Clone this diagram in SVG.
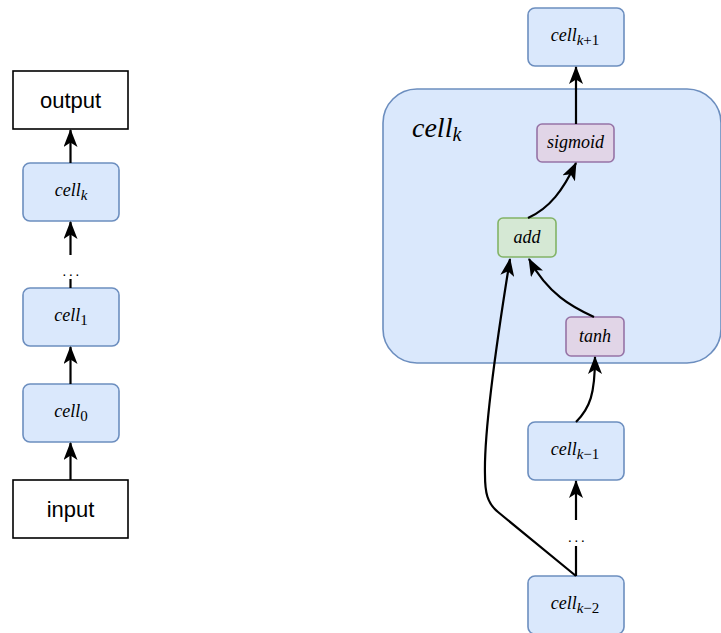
<svg xmlns="http://www.w3.org/2000/svg" width="721" height="633" viewBox="0 0 721 633">
  <style>
    .blue { fill: #dae8fc; stroke: #6c8ebf; stroke-width: 1.6; }
    .green { fill: #d5e8d4; stroke: #82b366; stroke-width: 1.6; }
    .purple { fill: #e1d5e7; stroke: #9673a6; stroke-width: 1.6; }
    .plain { fill: #ffffff; stroke: #000000; stroke-width: 1.6; }
    .math { font-family: "Liberation Serif", "Times New Roman", serif; font-style: italic; font-size: 18px; fill: #000; text-anchor: middle; }
    .sub { font-size: 15px; }
    .up { font-style: normal; }
    .sans { font-family: "Liberation Sans", Arial, sans-serif; font-size: 22px; fill: #000; text-anchor: middle; }
    .dots { font-family: "Liberation Sans", Arial, sans-serif; font-size: 15px; letter-spacing: 2.4px; fill: #000; text-anchor: middle; }
    .edge { fill: none; stroke: #000; stroke-width: 2.2; }
  </style>
  <defs>
    <!-- classic filled arrowhead, tip pointing along the path -->
    <marker id="arrow" viewBox="0 0 18 14" refX="17" refY="7" markerWidth="18" markerHeight="14" markerUnits="userSpaceOnUse" orient="auto">
      <path d="M18,7 L0,0 L4.5,7 L0,14 Z" fill="#000"/>
    </marker>
  </defs>

  <!-- left chain: input -> cell_0 -> cell_1 -> ... -> cell_k -> output -->
  <g id="output">
    <rect class="plain" x="13" y="71" width="115" height="58"/>
    <text class="sans" x="70.5" y="108">output</text>
  </g>
  <g id="left-cell-k">
    <rect class="blue" x="23" y="163" width="96" height="58" rx="7"/>
    <text class="math" x="71" y="196">cell<tspan class="sub" dy="4">k</tspan></text>
  </g>
  <g id="left-dots">
    <text class="dots" x="72" y="276">...</text>
  </g>
  <g id="left-cell-1">
    <rect class="blue" x="23" y="288" width="96" height="58" rx="7"/>
    <text class="math" x="71" y="321">cell<tspan class="sub up" dy="4">1</tspan></text>
  </g>
  <g id="left-cell-0">
    <rect class="blue" x="23" y="384" width="96" height="58" rx="7"/>
    <text class="math" x="71" y="417">cell<tspan class="sub up" dy="4">0</tspan></text>
  </g>
  <g id="input">
    <rect class="plain" x="13" y="480" width="115" height="58"/>
    <text class="sans" x="70.5" y="517">input</text>
  </g>

  <!-- right: inside of one cell -->
  <g id="cell-k-container">
    <rect class="blue" x="383" y="89" width="338" height="274" rx="34"/>
    <text class="math" x="412" y="137" style="font-size:28px;text-anchor:start">cell<tspan dy="4" style="font-size:20px">k</tspan></text>
  </g>
  <g id="cell-k-plus-1">
    <rect class="blue" x="528" y="8" width="96" height="58" rx="7"/>
    <text class="math" x="575" y="41">cell<tspan class="sub" dy="4">k</tspan><tspan class="sub up">+1</tspan></text>
  </g>
  <g id="sigmoid">
    <rect class="purple" x="537" y="124" width="77" height="38" rx="5"/>
    <text class="math" x="575.5" y="148">sigmoid</text>
  </g>
  <g id="add">
    <rect class="green" x="498" y="218" width="58" height="39" rx="5"/>
    <text class="math" x="527" y="243">add</text>
  </g>
  <g id="tanh">
    <rect class="purple" x="566" y="317" width="58" height="39" rx="5"/>
    <text class="math" x="595" y="342">tanh</text>
  </g>
  <g id="cell-k-minus-1">
    <rect class="blue" x="528" y="422" width="96" height="58" rx="7"/>
    <text class="math" x="575" y="455">cell<tspan class="sub" dy="4">k</tspan><tspan class="sub up">−1</tspan></text>
  </g>
  <g id="right-dots">
    <text class="dots" x="577.5" y="542">...</text>
  </g>
  <g id="cell-k-minus-2">
    <rect class="blue" x="528" y="576" width="96" height="58" rx="7"/>
    <text class="math" x="575" y="609">cell<tspan class="sub" dy="4">k</tspan><tspan class="sub up">−2</tspan></text>
  </g>

  <g id="connectors">
    <!-- left chain -->
    <path class="edge" d="M70.5,163 L70.5,130" marker-end="url(#arrow)"/>
    <path class="edge" d="M70.5,255 L70.5,222" marker-end="url(#arrow)"/>
    <path class="edge" d="M70.5,279 L70.5,288"/>
    <path class="edge" d="M70.5,384 L70.5,347" marker-end="url(#arrow)"/>
    <path class="edge" d="M70.5,480 L70.5,443" marker-end="url(#arrow)"/>
    <!-- right side -->
    <path class="edge" d="M576,124 L576,67" marker-end="url(#arrow)"/>
    <path class="edge" d="M528,218 C550,208 563,190 576,163" marker-end="url(#arrow)"/>
    <path class="edge" d="M594,317 C572,307 548,294 529,259" marker-end="url(#arrow)"/>
    <path class="edge" d="M576,422 C590,408 595,394 595,357" marker-end="url(#arrow)"/>
    <path class="edge" d="M576,576 L498,512 C487,503 485,492 485,475 C484,440 492,370 510,259" marker-end="url(#arrow)"/>
    <path class="edge" d="M576,520 L576,481" marker-end="url(#arrow)"/>
    <path class="edge" d="M576,546 L576,576"/>
  </g>
</svg>
